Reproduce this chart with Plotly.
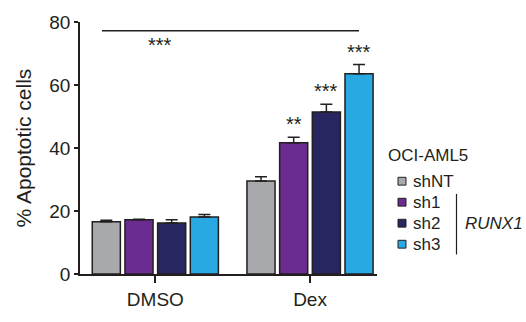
import plotly.graph_objects as go

# Apoptosis data (% apoptotic cells, mean ± SEM)
conditions = ["DMSO", "Dex"]
series_names = ["shNT", "sh1", "sh2", "sh3"]
series_colors = ["#a7a9ac", "#6a2c91", "#282660", "#29a9e1"]
values = {
    "shNT": [16.6, 29.5],
    "sh1": [17.2, 41.7],
    "sh2": [16.2, 51.4],
    "sh3": [18.1, 63.6],
}
errors = {
    "shNT": [0.5, 1.4],
    "sh1": [0.2, 1.7],
    "sh2": [1.0, 2.5],
    "sh3": [0.8, 2.9],
}
# significance stars above the Dex bars
stars = {"shNT": "", "sh1": "**", "sh2": "***", "sh3": "***"}
y_ticks = [0, 20, 40, 60, 80]

INK = "#231f20"
FONT = "Liberation Sans, Arial, Helvetica, sans-serif"
W, H = 526, 322
ML, MR, MT, MB = 80, 149, 18, 46
BARGAP, GROUPGAP = 0.155, 0.14


def px_x(px):
    return (px - ML) / (W - ML - MR)


def px_y(py):
    return (H - MB - py) / (H - MT - MB)


fig = go.Figure()
for name, color in zip(series_names, series_colors):
    fig.add_trace(go.Bar(
        name=name,
        x=conditions,
        y=values[name],
        marker=dict(color=color, line=dict(color=INK, width=1.5)),
        error_y=dict(type="data", array=errors[name], arrayminus=[0] * len(conditions),
                     symmetric=False, color=INK, thickness=1.5, width=6),
        showlegend=False,
    ))

# stars above individual bars
slot = (1 - BARGAP) / len(series_names)
for si, name in enumerate(series_names):
    for gi, _ in enumerate(conditions):
        if gi == 1 and stars[name]:
            fig.add_annotation(
                x=gi + (si - (len(series_names) - 1) / 2) * slot,
                y=values[name][gi] + errors[name][gi],
                text=stars[name], showarrow=False, yanchor="bottom", yshift=0,
                font=dict(family=FONT, size=20, color=INK),
            )

# overall treatment comparison bracket
fig.add_shape(type="line", xref="paper", yref="paper",
              x0=px_x(102), x1=px_x(359), y0=px_y(27), y1=px_y(27),
              line=dict(color=INK, width=1.5))
fig.add_annotation(xref="paper", yref="paper", x=px_x(146), y=px_y(42),
                   text="***", showarrow=False, yanchor="middle",
                   font=dict(family=FONT, size=20, color=INK))

# legend
fig.add_annotation(xref="paper", yref="paper", x=px_x(386), y=px_y(155),
                   text="OCI-AML5", showarrow=False, xanchor="left", yanchor="middle",
                   font=dict(family=FONT, size=17, color=INK))
row_y = [181, 202.5, 224, 245.5]
for name, color, ry in zip(series_names, series_colors, row_y):
    fig.add_shape(type="rect", xref="paper", yref="paper",
                  x0=px_x(398), x1=px_x(406), y0=px_y(ry - 4), y1=px_y(ry + 4),
                  fillcolor=color, line=dict(color=INK, width=1))
    fig.add_annotation(xref="paper", yref="paper", x=px_x(411), y=px_y(ry),
                       text=name, showarrow=False, xanchor="left", yanchor="middle",
                       font=dict(family=FONT, size=17, color=INK))
fig.add_shape(type="line", xref="paper", yref="paper",
              x0=px_x(456.5), x1=px_x(456.5), y0=px_y(194), y1=px_y(256),
              line=dict(color=INK, width=1.2))
fig.add_annotation(xref="paper", yref="paper", x=px_x(463), y=px_y(224),
                   text="<i>RUNX1</i>", showarrow=False, xanchor="left", yanchor="middle",
                   font=dict(family=FONT, size=17, color=INK))

fig.update_layout(
    width=W, height=H,
    margin=dict(l=ML, r=MR, t=MT, b=MB),
    paper_bgcolor="white", plot_bgcolor="white",
    barmode="group", bargap=BARGAP, bargroupgap=GROUPGAP,
    font=dict(family=FONT, color=INK, size=18),
    xaxis=dict(
        range=[-0.487, 1.433], showline=True, linecolor=INK, linewidth=1.5,
        ticks="outside", ticklen=7, tickwidth=1.5, tickcolor=INK,
        tickfont=dict(size=19, color=INK), showgrid=False, zeroline=False,
    ),
    yaxis=dict(
        range=[0, 80], tickvals=y_ticks, showline=True, linecolor=INK, linewidth=1.5,
        ticks="outside", ticklen=4, tickwidth=1.5, tickcolor=INK,
        tickfont=dict(size=19, color=INK), showgrid=False, zeroline=False,
        title=dict(text="% Apoptotic cells", font=dict(size=21, color=INK), standoff=12),
    ),
)

fig.write_html("out.html")
